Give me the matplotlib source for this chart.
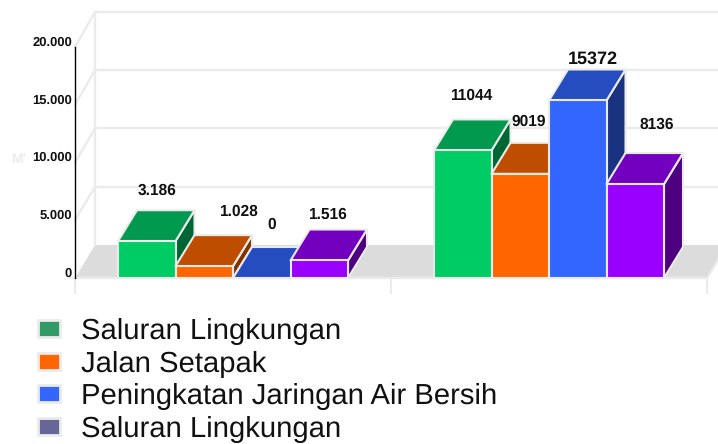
import matplotlib
matplotlib.use("Agg")
import matplotlib.pyplot as plt
from matplotlib.patches import Polygon, Patch
from matplotlib.transforms import offset_copy

plt.rcParams['font.family'] = ['Liberation Sans', 'DejaVu Sans']
plt.rcParams['text.hinting'] = 'no_hinting'

# data
series_names = ["Saluran Lingkungan", "Jalan Setapak", "Peningkatan Jaringan Air Bersih", "Saluran Lingkungan"]
group_a = [3186, 1028, 0, 1516]
group_b = [11044, 9019, 15372, 8136]
labels_a = ["3.186", "1.028", "0", "1.516"]
labels_b = ["11044", "9019", "15372", "8136"]
y_ticks = [0, 5000, 10000, 15000, 20000]
y_tick_labels = ["0", "5.000", "10.000", "15.000", "20.000"]

# styles
front = ["#00cc66", "#ff6600", "#3366ff", "#9900ff"]
top = ["#00994d", "#bf4d00", "#264dbf", "#7300bf"]
side = ["#006633", "#803300", "#1a3380", "#4d0080"]
legend_colors = ["#339966", "#ff6600", "#3366ff", "#666699"]
line_col = "#ebebeb"
floor_col = "#dcdcdc"

W, H = 718, 444
PX_X = 316.0  # pixels per category
PX_Y = 231.0 / 20000  # pixels per value unit
X0, Y0 = 233.0, 278.0  # pixel of category 0 and of value 0

fig = plt.figure(figsize=(W / 100, H / 100), dpi=100)
ax = fig.add_axes([0, 0, 1, 1])
ax.set_xlim(-X0 / PX_X, (W - X0) / PX_X)
ax.set_ylim((Y0 - H) / PX_Y, Y0 / PX_Y)
ax.axis("off")

dx = 19 / PX_X  # depth of the 3d look
dy = 31 / PX_Y
bar_w = 57.5 / PX_X
left = -0.5
right = 1.5
wall_dx = 20 / PX_X
wall_dy = 33 / PX_Y


def poly(pts, fc, ec=line_col, lw=1.5, z=2):
    ax.add_patch(Polygon(pts, closed=True, facecolor=fc, edgecolor=ec, linewidth=lw, joinstyle="round", zorder=z))


# floor
poly([(left, 0), (right, 0), (right + wall_dx, wall_dy), (left + wall_dx, wall_dy)], floor_col, ec="none", lw=0, z=1)

# back wall and side wall lines
for v in y_ticks[1:]:
    back = v * 1.009 + wall_dy
    ax.plot([left + wall_dx, 2], [back, back], color=line_col, lw=1.7, zorder=1)
    ax.plot([left, left + wall_dx], [v, back], color=line_col, lw=1.7, zorder=1)
ax.plot([left + wall_dx, left + wall_dx], [wall_dy, 20000 * 1.009 + wall_dy], color=line_col, lw=1.7, zorder=1)
ax.plot([right, right + wall_dx], [0, wall_dy], color=line_col, lw=1.7, zorder=1)

# front axis lines
ax.plot([left - 0.015, right], [0, 0], color=line_col, lw=1.7, zorder=1.5)
for xt in [left, 0.5, right]:
    ax.plot([xt, xt], [0, -15 / PX_Y], color=line_col, lw=1.5, zorder=1.5)
ax.plot([left, left], [0, 20000], color="black", lw=1.0, zorder=1.6)

# y labels
for v, lab in zip(y_ticks, y_tick_labels):
    trans = offset_copy(ax.transData, fig=fig, x=-3 * 0.72, y=4.5 * 0.72, units="points")
    ax.text(left, v, lab, transform=trans, ha="right", va="center", fontsize=9.4, fontweight="bold", color="#111111")
ax.text(left - 64 / PX_X, 10000 + 3 / PX_Y, "M'", ha="left", va="center", fontsize=10, fontweight="bold", color=line_col)

# label offsets in px from the middle of the front top edge
label_off = [[(10, 51), (34, 54), (10, 53), (8, 46)], [(8, 55), (8, 52), (15, 41), (21, 59)]]
label_size = [[11.2, 11.2, 11.2, 11.2], [11.2, 11.2, 13, 11.2]]

for g, (vals, labs) in enumerate(zip([group_a, group_b], [labels_a, labels_b])):
    for i, v in enumerate(vals):
        x1 = g + (i - 2) * bar_w
        x2 = x1 + bar_w
        poly([(x2, 0), (x2 + dx, dy), (x2 + dx, v + dy), (x2, v)], side[i], z=3)
        poly([(x1, v), (x2, v), (x2 + dx, v + dy), (x1 + dx, v + dy)], top[i], z=3)
        if v > 0:
            poly([(x1, 0), (x2, 0), (x2, v), (x1, v)], front[i], z=3)
        ox, oy = label_off[g][i]
        ax.annotate(labs[i], ((x1 + x2) / 2, v), xytext=(ox * 0.72, oy * 0.72), textcoords="offset points",
                    ha="center", va="center", fontsize=label_size[g][i], fontweight="bold", color="#111111", zorder=5)

handles = [Patch(facecolor=c, edgecolor=line_col, linewidth=2) for c in legend_colors]
leg = ax.legend(handles, series_names, loc="upper left", bbox_to_anchor=(38 / W, 1 - 318 / H), frameon=False,
                fontsize=21.1, handlelength=0.75, handleheight=0.51, handletextpad=0.71,
                labelspacing=0.19, borderpad=0, borderaxespad=0)
for t in leg.get_texts():
    t.set_color("#111111")

fig.savefig("out.png", dpi=100)
